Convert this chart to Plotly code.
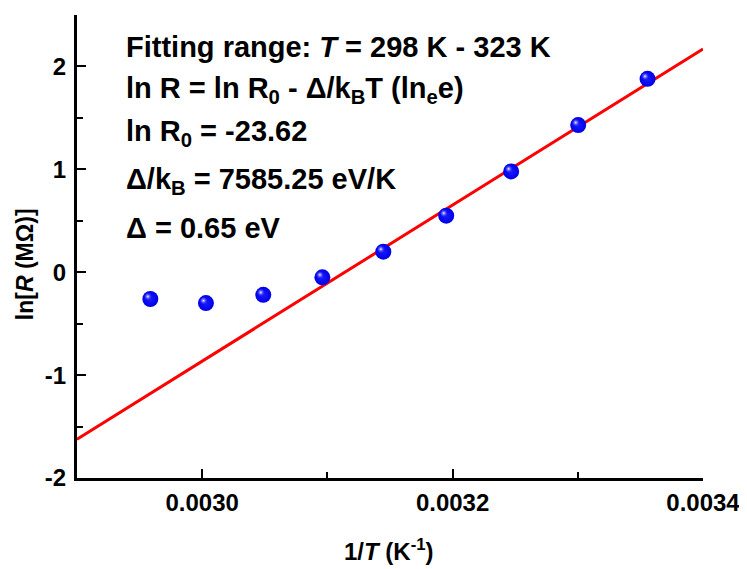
import plotly.graph_objects as go

# Data
inv_T = [1/338, 1/333, 1/328, 1/323, 1/318, 1/313, 1/308, 1/303, 1/298]
ln_R = [-0.26, -0.30, -0.22, -0.05, 0.20, 0.55, 0.98, 1.43, 1.88]

# Linear fit parameters shown on the chart
ln_R0 = -23.62
slope = 7585.25
fit_x = [0.0029, 0.0034]
fit_y = [ln_R0 + slope * x for x in fit_x]

x_tickvals = [0.0030, 0.0032, 0.0034]
x_ticktext = ["0.0030", "0.0032", "0.0034"]
y_tickvals = [-2, -1, 0, 1, 2]
y_ticktext = ["-2", "-1", "0", "1", "2"]

text_lines = [
    "Fitting range: <i>T</i> = 298 K - 323 K",
    "ln R = ln R<sub>0</sub> - Δ/k<sub>B</sub>T (ln<sub>e</sub>e)",
    "ln R<sub>0</sub> = -23.62",
    "Δ/k<sub>B</sub> = 7585.25 eV/K",
    "Δ = 0.65 eV",
]
text_centers_px = [47, 90, 133, 181, 228]

OFF = 8  # page body margin
W, H = 747 - OFF, 569 - OFF
plot_left, plot_right, plot_top, plot_bottom = 77, 705, 15, 478
L = plot_left - OFF
T = plot_top - OFF
R = W - (plot_right - OFF)
B = H - (plot_bottom - OFF)
pw = W - L - R
ph = H - T - B


def px_x(px):
    return (px - plot_left) / pw


def px_y(py):
    return (plot_bottom - py) / ph


FONT = "Liberation Sans, Arial, sans-serif"
XR = [0.0029, 0.0034]
YR = [-2, 2.5]
dx = (XR[1] - XR[0]) / pw * 2.5
dy = (YR[1] - YR[0]) / ph * 2.5

fig = go.Figure()
fig.add_trace(go.Scatter(
    x=fit_x, y=fit_y, mode="lines",
    line=dict(color="#ff0000", width=3), showlegend=False, hoverinfo="skip"))
fig.add_trace(go.Scatter(
    x=inv_T, y=ln_R, mode="markers",
    marker=dict(size=16, color="#0000e6",
                gradient=dict(type="radial", color="#1a1aff"),
                line=dict(width=0)),
    showlegend=False))
fig.add_trace(go.Scatter(
    x=inv_T, y=ln_R, mode="markers", xaxis="x2", yaxis="y2",
    marker=dict(size=8, color="rgba(60,60,255,0)",
                gradient=dict(type="radial", color="rgba(255,255,255,0.95)"),
                line=dict(width=0)),
    showlegend=False, hoverinfo="skip"))

axis_common = dict(
    showline=True, linecolor="black", linewidth=3,
    ticks="inside", tickcolor="black", tickwidth=2, ticklen=9,
    showgrid=False, zeroline=False,
    tickfont=dict(family=FONT, size=24, color="black", weight="bold"),
)

fig.update_xaxes(
    range=XR, tickvals=x_tickvals, ticktext=x_ticktext,
    minor=dict(dtick=0.0001, tick0=0.0029, ticks="inside", ticklen=6,
               tickwidth=2, tickcolor="black"),
    ticklabelstandoff=1,
    **axis_common)
fig.update_yaxes(
    range=YR, tickvals=y_tickvals, ticktext=y_ticktext,
    minor=dict(dtick=0.5, tick0=0, ticks="inside", ticklen=6,
               tickwidth=2, tickcolor="black"),
    ticklabelstandoff=3,
    **axis_common)

fig.update_layout(
    xaxis2=dict(overlaying="x", range=[XR[0] + dx, XR[1] + dx], visible=False),
    yaxis2=dict(overlaying="y", range=[YR[0] - dy, YR[1] - dy], visible=False),
)

for line, cy in zip(text_lines, text_centers_px):
    fig.add_annotation(
        x=px_x(124), y=px_y(cy),
        xref="paper", yref="paper", xanchor="left", yanchor="middle",
        text=line, showarrow=False,
        font=dict(family=FONT, size=29, color="black", weight="bold"))

fig.add_annotation(
    x=px_x(390), y=px_y(550), xref="paper", yref="paper",
    xanchor="center", yanchor="middle", showarrow=False,
    text="1/<i>T</i> (K<sup>-1</sup>)",
    font=dict(family=FONT, size=24, color="black", weight="bold"))
fig.add_annotation(
    x=px_x(25), y=px_y(264), xref="paper", yref="paper",
    xanchor="center", yanchor="middle", showarrow=False, textangle=-90,
    text="ln[<i>R</i> (MΩ)]",
    font=dict(family=FONT, size=23, color="black", weight="bold"))

fig.update_layout(
    width=W, height=H, margin=dict(l=L, r=R, t=T, b=B),
    plot_bgcolor="white", paper_bgcolor="white", showlegend=False)

fig.write_html("out.html")
